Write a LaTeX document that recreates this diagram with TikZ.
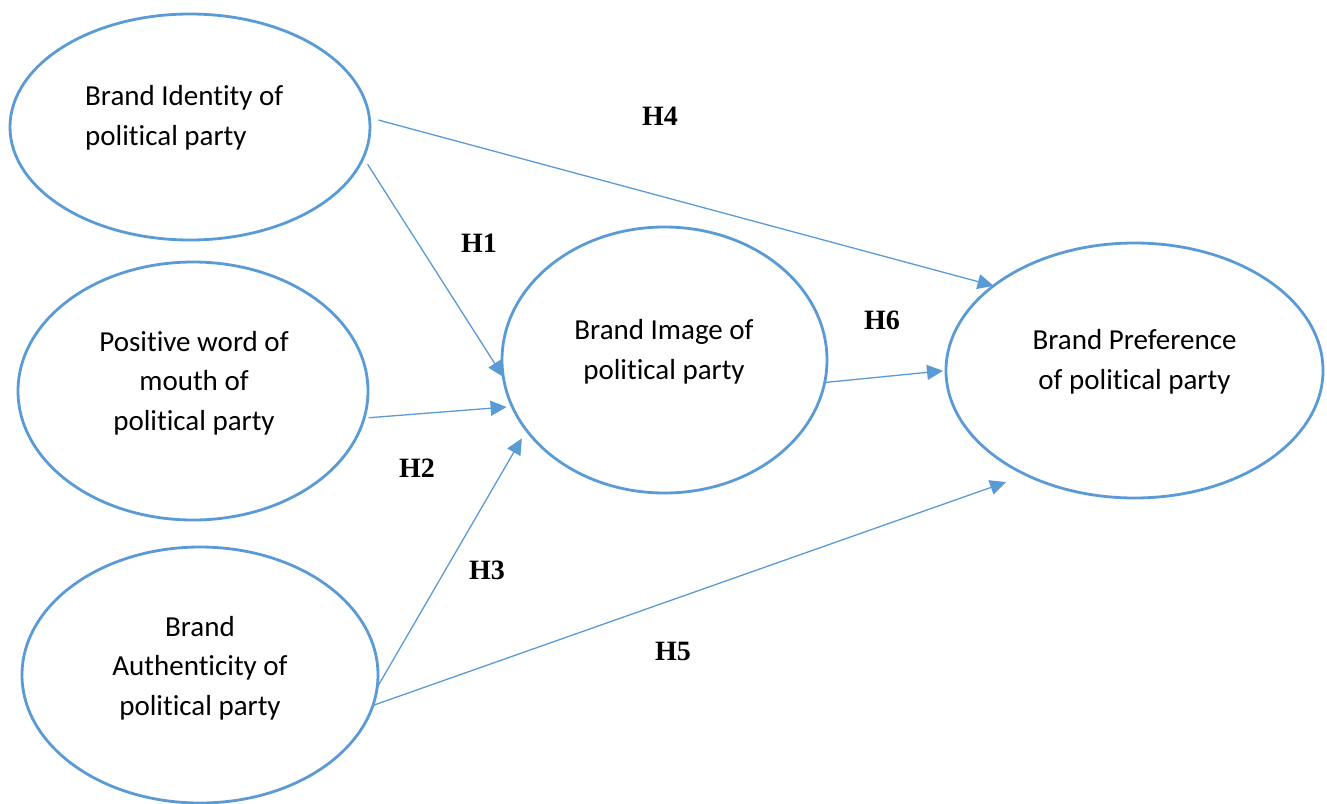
\documentclass[tikz,border=0pt]{standalone}
\usepackage{fontspec}
\setmainfont{Carlito}[Ligatures=NoCommon]
\newfontfamily\hypfont{Liberation Serif}
\usetikzlibrary{arrows.meta,shapes.geometric}
\definecolor{linkblue}{HTML}{5B9BD5}
\begin{document}
\begin{tikzpicture}[x=1pt,y=-1pt,
  construct/.style={ellipse, draw=linkblue, line width=2.8pt, inner sep=0pt, outer sep=0pt},
  ctext/.style={font=\fontsize{29}{39.5}\selectfont, align=center, inner sep=0pt},
  link/.style={draw=linkblue, line width=1.3pt, -{Triangle[length=16pt,width=15pt]}},
  hyp/.style={font=\hypfont\bfseries\fontsize{28}{32}\selectfont, inner sep=0pt}]
\fill[white] (0,0) rectangle (1327,803);
\useasboundingbox (0,0) rectangle (1327,803);

% constructs
\node[construct, minimum width=360pt, minimum height=226pt] (identity) at (190,127) {};
\node[construct, minimum width=350pt, minimum height=258pt] (wom) at (193,391) {};
\node[construct, minimum width=356pt, minimum height=256pt] (authentic) at (200,675) {};
\node[construct, minimum width=325pt, minimum height=266pt] (image) at (664.5,360) {};
\node[construct, minimum width=377pt, minimum height=255pt] (preference) at (1134.5,370.5) {};

% construct names
\node[ctext, anchor=west, align=left] (identity-text) at (85,118) {Brand Identity of\\political party};
\node[ctext] (wom-text) at (194,383) {Positive word of\\mouth of\\political party};
\node[ctext] (authentic-text) at (200,668) {Brand\\Authenticity of\\political party};
\node[ctext] (image-text) at (664,352) {Brand Image of\\political party};
\node[ctext] (preference-text) at (1134.5,362) {Brand Preference\\of political party};

% hypothesised paths
\draw[link, shorten <=9.5pt] (identity.3) -- (preference.149.6);
\draw[link, shorten <=8pt] (identity.-10.5) -- (image.186);
\draw[link, shorten <=4.6pt, shorten >=5.7pt] (wom.-9.8) -- (image.197.4);
\draw[link, shorten >=9.4pt] (authentic.-4.8) -- (image.207.7);
\draw[link, shorten >=21.5pt] (authentic.-10.5) -- (preference.224.8);
\draw[link, shorten >=3pt] (image.-8.9) -- (preference.180.7);

% hypothesis labels
\node[hyp] (h1) at (479,243) {H1};
\node[hyp] (h2) at (417,468) {H2};
\node[hyp] (h3) at (487,570) {H3};
\node[hyp] (h4) at (660,116) {H4};
\node[hyp] (h5) at (673,651) {H5};
\node[hyp] (h6) at (882,320) {H6};
\end{tikzpicture}
\end{document}
